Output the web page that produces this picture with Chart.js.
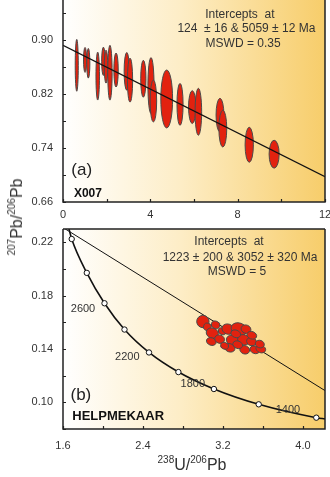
<!DOCTYPE html>
<html>
<head>
<meta charset="utf-8">
<script src="https://cdn.jsdelivr.net/npm/chart.js@4.4.0/dist/chart.umd.min.js"></script>
<style>
  body { margin: 0; background: #fff; }
  #wrap { position: relative; width: 330px; height: 477px; overflow: hidden; font-family: "Liberation Sans", Arial, sans-serif; color: #333; }
  canvas { position: absolute; left: 0; }
  #chartA { top: 0; }
  #chartB { top: 222px; }
  .axis-title { position: absolute; font-size: 16px; line-height: 16px; white-space: nowrap; }
  .axis-title sup { font-size: 10px; line-height: 0; vertical-align: 7px; }
  #xTitle { left: 192px; top: 457px; transform: translateX(-50%); }
  #yTitle { left: 17px; top: 217px; transform: translate(-50%, -50%) rotate(-90deg); }
</style>
</head>
<body>
<div id="wrap">
  <canvas id="chartA" width="330" height="222"></canvas>
  <canvas id="chartB" width="330" height="255"></canvas>
  <div class="axis-title" id="xTitle"><sup>238</sup>U/<sup>206</sup>Pb</div>
  <div class="axis-title" id="yTitle"><sup>207</sup>Pb/<sup>206</sup>Pb</div>
</div>
<script>
// ---- (a) X007 ----
const aSpotX  = [0.63, 1.01, 1.16, 1.59, 1.85, 1.97, 2.15, 2.43, 2.92, 3.07, 3.68, 4.03, 4.14, 4.75, 5.36, 5.92, 6.20, 7.19, 7.32, 8.53, 9.67];
const aSpotY  = [0.863, 0.871, 0.866, 0.847, 0.869, 0.861, 0.852, 0.856, 0.854, 0.841, 0.843, 0.833, 0.810, 0.813, 0.805, 0.801, 0.794, 0.789, 0.769, 0.745, 0.731];
const aErrX   = [0.07, 0.07, 0.07, 0.08, 0.08, 0.08, 0.10, 0.10, 0.12, 0.12, 0.12, 0.14, 0.15, 0.27, 0.14, 0.17, 0.15, 0.18, 0.18, 0.19, 0.23];
const aErrY   = [0.0385, 0.0185, 0.022, 0.0356, 0.021, 0.0244, 0.0407, 0.0252, 0.028, 0.0326, 0.0274, 0.0415, 0.031, 0.043, 0.031, 0.0244, 0.0348, 0.025, 0.0274, 0.026, 0.0207];
const aDiscX  = [0, 12];
const aDiscY  = [0.8926, 0.6975];
const aXTicks = [0, 2, 4, 6, 8, 10, 12];
const aXLabels = [0, 4, 8, 12];
const aYTicks = [0.66, 0.70, 0.74, 0.78, 0.82, 0.86, 0.90, 0.94];
const aYLabels = [0.66, 0.74, 0.82, 0.90];

// ---- (b) HELPMEKAAR ----
const bSpotX  = [2.999, 3.043, 3.093, 3.083, 3.166, 3.193, 3.25, 3.36, 3.43, 3.294, 3.267, 3.407, 3.485, 3.488, 3.417, 3.518, 3.578, 3.568, 3.216, 3.327, 3.126, 3.347];
const bSpotY  = [0.1606, 0.1566, 0.1519, 0.1456, 0.1474, 0.1533, 0.1549, 0.1549, 0.1549, 0.1465, 0.1409, 0.1469, 0.1456, 0.1503, 0.1394, 0.1394, 0.1400, 0.1437, 0.1424, 0.1514, 0.1581, 0.1432];
const bErrX   = [0.062, 0.038, 0.062, 0.050, 0.050, 0.041, 0.062, 0.081, 0.050, 0.062, 0.054, 0.062, 0.050, 0.050, 0.050, 0.050, 0.050, 0.046, 0.041, 0.050, 0.044, 0.050];
const bErrY   = [0.0046, 0.0028, 0.0038, 0.0028, 0.0031, 0.0025, 0.0038, 0.0046, 0.0031, 0.0038, 0.0031, 0.0038, 0.0031, 0.0028, 0.0031, 0.0028, 0.0028, 0.0028, 0.0025, 0.0028, 0.0028, 0.0028];
const bDiscX  = [1.6, 4.22];
const bDiscY  = [0.2311, 0.1088];
// concordia, 3000 Ma down to 1400 Ma in 200 Ma steps (plus the ends at the frame)
const bConcX  = [1.66, 1.687, 1.838, 2.015, 2.215, 2.46, 2.754, 3.109, 3.557, 4.133, 4.22];
const bConcY  = [0.2300, 0.2225, 0.1971, 0.1743, 0.1546, 0.1374, 0.1227, 0.1100, 0.0985, 0.0885, 0.0876];
const bConcMark = [false, true, true, true, true, true, true, true, true, true, false];
const bAgeText = ['2600', '2200', '1800', '1400'];
const bAgeX    = [1.80, 2.243, 2.898, 3.849];
const bAgeY    = [0.1701, 0.1337, 0.1134, 0.0942];
const bXTicks = [1.6, 2.0, 2.4, 2.8, 3.2, 3.6, 4.0];
const bXLabels = [1.6, 2.4, 3.2, 4.0];
const bYTicks = [0.08, 0.10, 0.12, 0.14, 0.16, 0.18, 0.20, 0.22];
const bYLabels = [0.10, 0.14, 0.18, 0.22];

const FONT = '"Liberation Sans", Arial, sans-serif';
const INK = '#333';

function pts(xs, ys) {
  return xs.map((x, i) => ({ x: x, y: ys[i] }));
}

function axis(min, max, tickVals, labelVals, digits, size) {
  return {
    type: 'linear', min: min, max: max,
    grid: { display: false, drawTicks: false }, border: { display: false },
    afterBuildTicks: s => { s.ticks = tickVals.map(v => ({ value: v })); },
    ticks: {
      autoSkip: false, maxRotation: 0, padding: size > 40 ? 10 : 6, color: INK,
      font: { family: FONT, size: 11 },
      callback: v => labelVals.some(l => Math.abs(l - v) < 1e-6) ? v.toFixed(digits) : ''
    },
    afterFit: s => {
      if (s.isHorizontal()) { s.height = size; } else { s.width = size; }
      s.paddingLeft = s.paddingRight = s.paddingTop = s.paddingBottom = 0;
    }
  };
}

// gradient panel background, inward ticks and frame
function panelPlugin(withTop) {
  return {
    id: 'panel',
    beforeDraw(chart) {
      const { ctx, chartArea: a } = chart;
      const g = ctx.createLinearGradient(a.left, 0, a.right, 0);
      g.addColorStop(0, '#ffffff');
      g.addColorStop(0.45, '#fdedc6');
      g.addColorStop(1, '#f7cd6a');
      ctx.save();
      ctx.fillStyle = g;
      ctx.fillRect(a.left, a.top, a.right - a.left, a.bottom - a.top);
      ctx.restore();
    },
    afterDraw(chart) {
      const { ctx, chartArea: a, scales } = chart;
      ctx.save();
      ctx.strokeStyle = '#222';
      ctx.lineWidth = 1.2;
      ctx.beginPath();
      scales.x.ticks.forEach(t => {
        const px = Math.round(scales.x.getPixelForValue(t.value)) + 0.5;
        ctx.moveTo(px, a.bottom); ctx.lineTo(px, a.bottom - 3);
      });
      scales.y.ticks.forEach(t => {
        const py = Math.round(scales.y.getPixelForValue(t.value)) + 0.5;
        ctx.moveTo(a.left, py); ctx.lineTo(a.left + 3, py);
      });
      ctx.stroke();
      ctx.lineWidth = 1.5;
      ctx.beginPath();
      if (withTop) {
        ctx.moveTo(a.left, a.top); ctx.lineTo(a.right, a.top);
      }
      ctx.moveTo(a.left, a.top); ctx.lineTo(a.left, a.bottom);
      ctx.lineTo(a.right, a.bottom); ctx.lineTo(a.right, a.top);
      ctx.stroke();
      ctx.restore();
    }
  };
}

// error ellipses drawn from centre and half-errors in data units
function ellipsePlugin(xs, ys, ex, ey, tilt, onTop) {
  function draw(chart) {
    const { ctx, chartArea: a, scales: { x, y } } = chart;
    ctx.save();
    ctx.beginPath();
    ctx.rect(a.left, a.top, a.right - a.left, a.bottom - a.top);
    ctx.clip();
    ctx.fillStyle = '#e2220f';
    ctx.strokeStyle = '#4a4a4a';
    ctx.lineWidth = 1;
    xs.forEach((v, i) => {
      const cx = x.getPixelForValue(v);
      const cy = y.getPixelForValue(ys[i]);
      const rx = Math.abs(x.getPixelForValue(v + ex[i]) - cx);
      const ry = Math.abs(y.getPixelForValue(ys[i] + ey[i]) - cy);
      ctx.beginPath();
      ctx.ellipse(cx, cy, rx, ry, tilt, 0, Math.PI * 2);
      ctx.fill();
      ctx.stroke();
    });
    ctx.restore();
  }
  return {
    id: 'ellipses',
    beforeDatasetsDraw(chart) { if (!onTop) draw(chart); },
    afterDatasetsDraw(chart) { if (onTop) draw(chart); }
  };
}

// text placed at data coordinates
function notesPlugin(notes) {
  return {
    id: 'notes',
    afterDatasetsDraw(chart) {
      const { ctx, scales: { x, y } } = chart;
      ctx.save();
      ctx.textBaseline = 'middle';
      notes.forEach(n => {
        ctx.font = n.font;
        ctx.fillStyle = n.color || INK;
        ctx.textAlign = n.align || 'center';
        ctx.fillText(n.text, x.getPixelForValue(n.x), y.getPixelForValue(n.y));
      });
      ctx.restore();
    }
  };
}

const base = {
  responsive: false,
  animation: false,
  events: [],
  plugins: { legend: { display: false }, tooltip: { enabled: false } }
};

new Chart(document.getElementById('chartA'), {
  type: 'scatter',
  data: {
    datasets: [{
      data: pts(aDiscX, aDiscY), showLine: true,
      borderColor: '#111', borderWidth: 1.2, pointRadius: 0
    }]
  },
  options: Object.assign({}, base, {
    layout: { padding: { left: 0, right: 5, top: 0, bottom: 0 } },
    scales: {
      x: axis(0, 12, aXTicks, aXLabels, 0, 20),
      y: axis(0.66, 0.96, aYTicks, aYLabels, 2, 63)
    }
  }),
  plugins: [
    panelPlugin(false),
    ellipsePlugin(aSpotX, aSpotY, aErrX, aErrY, 0, false),
    notesPlugin([
      { text: 'Intercepts  at', x: 8.1, y: 0.9385, font: '12px ' + FONT },
      { text: '124  \u00b1 16 & 5059 \u00b1 12 Ma', x: 8.4, y: 0.9175, font: '12px ' + FONT },
      { text: 'MSWD = 0.35', x: 8.25, y: 0.8955, font: '12px ' + FONT },
      { text: '(a)', x: 0.38, y: 0.707, font: '17px ' + FONT, align: 'left', color: '#222' },
      { text: 'X007', x: 0.5, y: 0.673, font: 'bold 12px ' + FONT, align: 'left', color: '#111' }
    ])
  ]
});

new Chart(document.getElementById('chartB'), {
  type: 'scatter',
  data: {
    datasets: [{
      data: pts(bDiscX, bDiscY), showLine: true,
      borderColor: '#111', borderWidth: 1, pointRadius: 0
    }, {
      data: pts(bConcX, bConcY), showLine: true,
      cubicInterpolationMode: 'monotone',
      borderColor: '#111', borderWidth: 1.6,
      pointRadius: bConcMark.map(m => m ? 2.7 : 0),
      pointBackgroundColor: '#fff', pointBorderColor: '#111', pointBorderWidth: 1
    }]
  },
  options: Object.assign({}, base, {
    layout: { padding: { left: 0, right: 5, top: 7, bottom: 0 } },
    scales: {
      x: axis(1.6, 4.22, bXTicks, bXLabels, 1, 48),
      y: axis(0.08, 0.23, bYTicks, bYLabels, 2, 63)
    }
  }),
  plugins: [
    panelPlugin(true),
    ellipsePlugin(bSpotX, bSpotY, bErrX, bErrY, 0.35, true),
    notesPlugin([
      { text: 'Intercepts  at', x: 3.26, y: 0.2202, font: '12px ' + FONT },
      { text: '1223 \u00b1 200 & 3052 \u00b1 320 Ma', x: 3.37, y: 0.2082, font: '12px ' + FONT },
      { text: 'MSWD = 5', x: 3.34, y: 0.1977, font: '12px ' + FONT },
      { text: '(b)', x: 1.675, y: 0.105, font: '17px ' + FONT, align: 'left', color: '#222' },
      { text: 'HELPMEKAAR', x: 1.693, y: 0.0893, font: 'bold 13px ' + FONT, align: 'left', color: '#111' }
    ].concat(bAgeText.map((t, i) => ({ text: t, x: bAgeX[i], y: bAgeY[i], font: '11px ' + FONT }))))
  ]
});
</script>
</body>
</html>
